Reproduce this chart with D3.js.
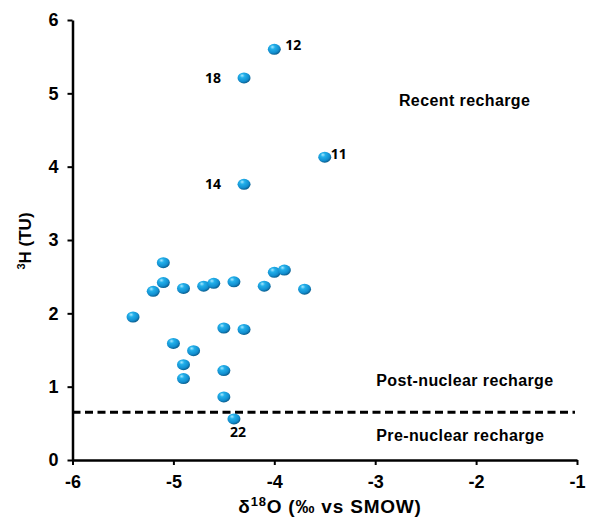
<!DOCTYPE html>
<html>
<head>
<meta charset="utf-8">
<script src="https://cdn.jsdelivr.net/npm/d3@7"></script>
<style>
  html, body { margin: 0; padding: 0; background: #fff; }
  svg { display: block; }
</style>
</head>
<body>
<svg id="chart" width="600" height="521"></svg>
<script>
// ---- data ----
const d18O    = [-5.4, -5.2, -5.1, -5.1, -5.0, -4.9, -4.9, -4.9, -4.8, -4.7, -4.6, -4.5, -4.5, -4.5, -4.4, -4.4, -4.3, -4.1, -4.0, -3.9, -3.7, -4.0, -4.3, -4.3, -3.5];
const tritium = [1.95, 2.30, 2.42, 2.69, 1.59, 2.34, 1.30, 1.11, 1.49, 2.37, 2.41, 1.80, 1.22, 0.86, 2.43, 0.56, 1.78, 2.37, 2.56, 2.59, 2.33, 5.60, 5.21, 3.76, 4.13];
const sampleIds = ["", "", "", "", "", "", "", "", "", "", "", "", "", "", "", "22", "", "", "", "", "", "12", "18", "14", "11"];
const xTicks = [-6, -5, -4, -3, -2, -1];
const yTicks = [0, 1, 2, 3, 4, 5, 6];
const thresholdTU = 0.65;
const zoneLabels = ["Recent recharge", "Post-nuclear recharge", "Pre-nuclear recharge"];
const zoneX = [-2.765, -2.99, -2.99];
const zoneY = [4.83, 1.01, 0.265];

// ---- layout ----
const svg = d3.select("#chart");
const x = d3.scaleLinear().domain([-6, -1]).range([72.5, 577]);
const y = d3.scaleLinear().domain([0, 6]).range([460, 20]);

// gradient for spheres
const defs = svg.append("defs");
const grad = defs.append("radialGradient").attr("id", "ball")
  .attr("cx", "40%").attr("cy", "35%").attr("r", "65%").attr("fx", "35%").attr("fy", "28%");
grad.append("stop").attr("offset", "0%").attr("stop-color", "#a8e8ff");
grad.append("stop").attr("offset", "30%").attr("stop-color", "#22b0ea");
grad.append("stop").attr("offset", "75%").attr("stop-color", "#128ecf");
grad.append("stop").attr("offset", "100%").attr("stop-color", "#0a5e8e");

// axes
const tickFont = "bold 18px 'Liberation Sans', Arial, sans-serif";
const yAxis = svg.append("g").attr("transform", `translate(${x(-6)},0)`)
  .call(d3.axisLeft(y).tickValues(yTicks).tickFormat(d3.format("d")).tickSize(5).tickSizeOuter(0).tickPadding(9));
const xAxis = svg.append("g").attr("transform", `translate(0,${y(0)})`)
  .call(d3.axisBottom(x).tickValues(xTicks).tickFormat(d => d.toString()).tickSize(5).tickSizeOuter(0).tickPadding(10));
[xAxis, yAxis].forEach(g => {
  g.select(".domain").attr("stroke", "#000").attr("stroke-width", 2.5);
  g.selectAll(".tick line").attr("stroke", "#000").attr("stroke-width", 2);
  g.selectAll(".tick text").style("font", tickFont).attr("fill", "#000");
});

// threshold dashed line
svg.append("line")
  .attr("x1", x(-6)).attr("x2", x(-1.02))
  .attr("y1", y(thresholdTU)).attr("y2", y(thresholdTU))
  .attr("stroke", "#000").attr("stroke-width", 3).attr("stroke-dasharray", "8,4.5");

// points
const pts = d18O.map((v, i) => ({ x: v, y: tritium[i], id: sampleIds[i] }));
svg.append("g").selectAll("ellipse").data(pts).join("ellipse")
  .attr("cx", d => x(d.x)).attr("cy", d => y(d.y))
  .attr("rx", 6.5).attr("ry", 5.5)
  .attr("fill", "url(#ball)");

// sample labels
const labelOffset = { "12": [11, 1, "start"], "18": [-23, 5, "end"], "14": [-23, 5, "end"], "11": [6, 2, "start"], "22": [4, 18, "middle"] };
svg.append("g").selectAll("text").data(pts.filter(d => d.id)).join("text")
  .attr("x", d => x(d.x) + labelOffset[d.id][0])
  .attr("y", d => y(d.y) + labelOffset[d.id][1])
  .attr("text-anchor", d => labelOffset[d.id][2])
  .style("font", "bold 14px 'Open Sans', sans-serif")
  .text(d => d.id);

// zone labels
svg.append("g").selectAll("text").data(zoneLabels).join("text")
  .attr("x", (d, i) => x(zoneX[i])).attr("y", (d, i) => y(zoneY[i]))
  .style("font", "bold 16px 'Liberation Sans', Arial, sans-serif")
  .style("letter-spacing", "0.4px")
  .text(d => d);

// axis titles
const xt = svg.append("text").attr("x", 330).attr("y", 513).attr("text-anchor", "middle")
  .style("font", "bold 19px 'Liberation Sans', Arial, sans-serif")
  .style("letter-spacing", "0.8px");
xt.append("tspan").text("δ");
xt.append("tspan").attr("dy", -7).style("font-size", "13px").text("18");
xt.append("tspan").attr("dy", 7).text("O (‰ vs SMOW)");

const yt = svg.append("text").attr("transform", "translate(31,241) rotate(-90)").attr("text-anchor", "middle")
  .style("font", "bold 17px 'Liberation Sans', Arial, sans-serif");
yt.append("tspan").attr("dy", -6).style("font-size", "11px").text("3");
yt.append("tspan").attr("dy", 6).text("H (TU)");
</script>
</body>
</html>
